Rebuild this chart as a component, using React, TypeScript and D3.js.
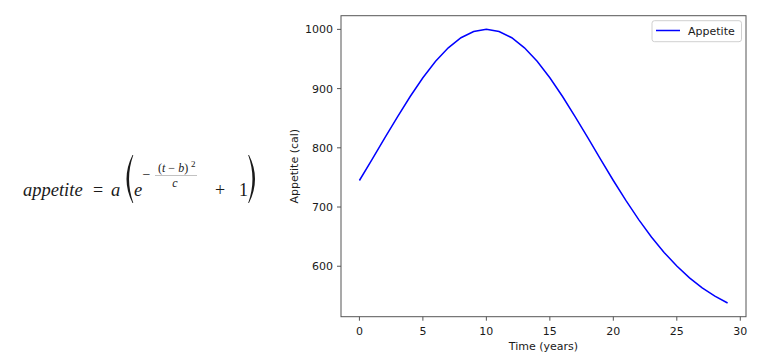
import React from "react";
import * as d3 from "d3";

const years = [0,1,2,3,4,5,6,7,8,9,10,11,12,13,14,15,16,17,18,19,20,21,22,23,24,25,26,27,28,29];
const appetite = [744.8,780.4,816.6,852.3,886.6,918.3,946.0,968.9,985.9,996.4,1000,996.4,985.9,968.9,946.0,918.3,886.6,852.3,816.6,780.4,744.8,710.7,678.8,649.5,623.3,600.3,580.3,563.4,549.4,537.9];
const xTicks = [0,5,10,15,20,25,30];
const yTicks = [600,700,800,900,1000];
const seriesName = "Appetite";
const xLabel = "Time (years)";
const yLabel = "Appetite (cal)";

const W = 766, H = 355;
const L = 341, R = 746, T = 15.7, B = 316.7;

export default function App() {
  const x = d3.scaleLinear().domain([-1.45, 30.45]).range([L, R]);
  const yMin = d3.min(appetite)!, yMax = d3.max(appetite)!;
  const pad = (yMax - yMin) * 0.05;
  const y = d3.scaleLinear().domain([yMin - pad, yMax + pad]).range([B, T]);
  const line = d3.line<number>().x((_, i) => x(years[i])).y((d) => y(d));
  const tickFont = "DejaVu Sans, sans-serif";
  const serif = "Liberation Serif, DejaVu Serif, serif";
  const ink = "#1a1a1a";
  const spine = "#555";

  // parentheses shapes
  const lp = `M132.5,155 Q120.5,179 132.5,203 L133.3,203 Q124.8,179 133.3,155 Z`;
  const rp = `M249,155 Q261,179 249,203 L248.2,203 Q256.7,179 248.2,155 Z`;

  return (
    <div style={{ position: "absolute", left: 0, top: 0 }}>
      <svg width={W} height={H} style={{ display: "block", background: "#fff" }}>
        {/* formula */}
        <g fill={ink} fontFamily={serif}>
          <text x={23} y={196} fontSize={18.5} fontStyle="italic">appetite</text>
          <text x={93} y={196} fontSize={18}>=</text>
          <text x={111} y={196} fontSize={18.5} fontStyle="italic">a</text>
          <path d={lp} />
          <text x={134} y={196} fontSize={18.5} fontStyle="italic">e</text>
          <text x={142.5} y={178.5} fontSize={14}>−</text>
          <text x={158} y={171.5} fontSize={12}>(<tspan fontStyle="italic">t</tspan> − <tspan fontStyle="italic">b</tspan>)</text>
          <text x={191} y={167} fontSize={9}>2</text>
          <line x1={155} x2={197} y1={175.5} y2={175.5} stroke="#999" strokeWidth={0.6} />
          <text x={175} y={187} fontSize={12} fontStyle="italic" textAnchor="middle">c</text>
          <text x={215} y={196} fontSize={18}>+</text>
          <text x={239} y={196} fontSize={18}>1</text>
          <path d={rp} />
        </g>

        {/* axes */}
        <path d={line(appetite) || ""} fill="none" stroke="#0000ff" strokeWidth={1.5} />
        <rect x={L} y={T} width={R - L} height={B - T} fill="none" stroke={spine} strokeWidth={1} />

        {xTicks.map((t) => (
          <g key={"x" + t}>
            <line x1={x(t)} x2={x(t)} y1={B} y2={B + 4} stroke={spine} />
            <text x={x(t)} y={335} fontSize={11} fontFamily={tickFont} textAnchor="middle" fill={ink}>{t}</text>
          </g>
        ))}
        {yTicks.map((t) => (
          <g key={"y" + t}>
            <line x1={L - 4} x2={L} y1={y(t)} y2={y(t)} stroke={spine} />
            <text x={333} y={y(t) + 4} fontSize={11} fontFamily={tickFont} textAnchor="end" fill={ink}>{t}</text>
          </g>
        ))}
        <text x={(L + R) / 2} y={350} fontSize={11} fontFamily={tickFont} textAnchor="middle" fill={ink}>{xLabel}</text>
        <text transform={`translate(298,${(T + B) / 2}) rotate(-90)`} fontSize={11} fontFamily={tickFont} textAnchor="middle" fill={ink}>{yLabel}</text>

        {/* legend */}
        <rect x={652} y={20.7} width={89.5} height={21} rx={2.5} fill="#fff" fillOpacity={0.8} stroke="#d0d0d0" strokeWidth={1} />
        <line x1={656} x2={680} y1={30.5} y2={30.5} stroke="#0000ff" strokeWidth={1.5} />
        <text x={688} y={34.5} fontSize={11} fontFamily={tickFont} fill={ink}>{seriesName}</text>
      </svg>
    </div>
  );
}
